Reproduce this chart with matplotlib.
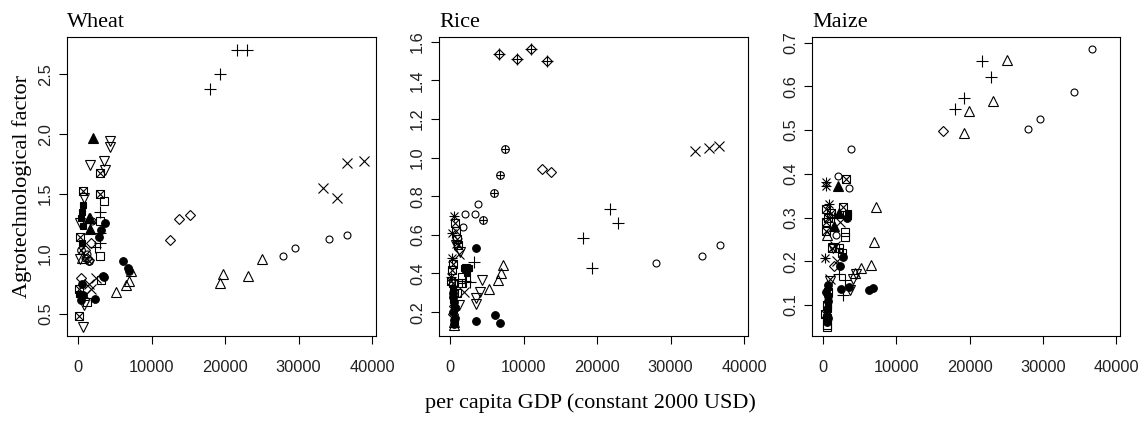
import matplotlib
matplotlib.use("Agg")
import matplotlib.pyplot as plt

# ---- data (x = per capita GDP, y = factor) ----
crops = ["Wheat", "Rice", "Maize"]
x_ticks = [0, 10000, 20000, 30000, 40000]
wheat_yticks = [0.5, 1.0, 1.5, 2.0, 2.5]
rice_yticks = [0.2, 0.4, 0.6, 0.8, 1.0, 1.2, 1.4, 1.6]
maize_yticks = [0.1, 0.2, 0.3, 0.4, 0.5, 0.6, 0.7]

wheat_plus = [(21600, 2.70), (22950, 2.70), (19250, 2.50), (17950, 2.38), (2990, 1.35),
              (2900, 1.175), (2900, 1.09), (2220, 1.06)]
wheat_cross = [(36550, 1.76), (38950, 1.78), (33300, 1.55), (35200, 1.47), (2450, 0.80),
               (1770, 0.71), (950, 0.66), (1500, 0.75)]
wheat_tri_down = [(4350, 1.94), (4350, 1.89), (3540, 1.78), (1630, 1.74), (3670, 1.70),
                  (725, 1.47), (725, 0.575), (635, 0.39), (270, 0.96), (270, 1.26)]
wheat_tri_up = [(5170, 0.686), (6530, 0.74), (6940, 0.775), (7170, 0.86), (19250, 0.756),
                (19770, 0.83), (23170, 0.817), (24950, 0.96), (1630, 1.30), (500, 0.97)]
wheat_tri_fill = [(1950, 1.97), (1500, 1.30), (1540, 1.21)]
wheat_box_x = [(2990, 1.68), (635, 1.53), (2990, 1.50), (136, 0.48), (270, 1.14), (136, 0.71)]
wheat_square = [(3450, 1.44), (2990, 1.275), (2990, 0.985), (3080, 0.78), (1180, 0.60)]
wheat_diamond = [(12430, 1.12), (13650, 1.29), (15150, 1.33), (365, 0.80), (1730, 1.09),
                 (950, 1.03), (1400, 0.95), (1200, 0.97)]
wheat_circle = [(27850, 0.986), (29570, 1.05), (34200, 1.125), (36550, 1.16), (1900, 1.28),
                (1200, 1.00), (900, 0.97)]
wheat_dot = [(6080, 0.94), (6760, 0.88), (6900, 0.86), (3450, 0.81), (3670, 1.26),
             (2760, 1.14), (2310, 0.625), (365, 0.62), (500, 0.75), (3130, 1.20),
             (3400, 0.82), (600, 0.66)]
wheat_square_fill = [(635, 1.41), (500, 1.35), (635, 1.23), (500, 1.09), (45, 0.67), (300, 1.30)]
wheat_circle_x = [(400, 1.03), (1400, 0.94)]

rice_diamond_plus = [(6600, 1.537), (9100, 1.509), (10920, 1.563), (13200, 1.502)]
rice_circle_plus = [(7510, 1.045), (6730, 0.91), (5910, 0.818), (4480, 0.675)]
rice_diamond = [(12510, 0.941), (13650, 0.924), (400, 0.19), (500, 0.23)]
rice_cross = [(33300, 1.036), (35260, 1.048), (36620, 1.062), (1820, 0.305), (1200, 0.50), (900, 0.56)]
rice_circle = [(3730, 0.76), (1950, 0.706), (3410, 0.71), (1770, 0.64), (27980, 0.452),
               (34350, 0.492), (36720, 0.547)]
rice_plus = [(21700, 0.734), (22890, 0.66), (18020, 0.582), (19250, 0.426), (3180, 0.46),
             (2730, 0.354), (2000, 0.36)]
rice_dot = [(3500, 0.533), (3500, 0.155), (6140, 0.184), (6730, 0.141), (500, 0.25),
            (400, 0.20), (600, 0.17), (300, 0.30), (500, 0.14), (500, 0.16), (600, 0.22),
            (400, 0.28)]
rice_tri_up = [(7190, 0.443), (6920, 0.404), (6510, 0.366), (5230, 0.319), (450, 0.133), (450, 0.15)]
rice_tri_down = [(4330, 0.366), (4100, 0.305), (3550, 0.271), (3550, 0.241), (1365, 0.51),
                 (1130, 0.236), (700, 0.55)]
rice_asterisk = [(450, 0.70), (230, 0.61), (230, 0.48), (150, 0.38)]
rice_box_x = [(600, 0.66), (700, 0.62), (900, 0.58), (200, 0.42), (100, 0.36), (300, 0.45),
              (1000, 0.55), (500, 0.30), (300, 0.35)]
rice_square_fill = [(1820, 0.426), (2500, 0.426), (2300, 0.40), (400, 0.26), (500, 0.22),
                    (600, 0.15), (400, 0.32)]
rice_square_plus = [(1590, 0.349), (2100, 0.43)]
rice_square = [(900, 0.30), (1600, 0.38)]

maize_circle = [(36720, 0.686), (34310, 0.588), (29670, 0.526), (27940, 0.502), (3730, 0.457),
                (2000, 0.394), (3460, 0.367), (1680, 0.259)]
maize_plus = [(21700, 0.659), (22930, 0.621), (19200, 0.574), (18020, 0.548), (2690, 0.123),
              (2910, 0.157), (1500, 0.30), (2200, 0.17)]
maize_tri_up = [(25080, 0.661), (23250, 0.567), (19890, 0.543), (19290, 0.494), (7230, 0.324),
                (6920, 0.243), (6460, 0.192), (5190, 0.184), (4280, 0.173), (500, 0.26)]
maize_diamond = [(16420, 0.497), (1500, 0.19)]
maize_box_x = [(3050, 0.388), (2700, 0.325), (300, 0.32), (300, 0.29), (600, 0.30), (400, 0.27),
               (1000, 0.31), (1200, 0.23), (200, 0.08), (500, 0.10), (600, 0.13)]
maize_tri_fill = [(2000, 0.372), (1500, 0.28), (2200, 0.31)]
maize_asterisk = [(410, 0.382), (410, 0.371), (180, 0.207), (800, 0.33)]
maize_dot = [(6190, 0.134), (6780, 0.138), (2370, 0.137), (3460, 0.14), (3300, 0.30),
             (2700, 0.21), (2300, 0.19), (600, 0.12), (500, 0.09), (700, 0.07), (500, 0.06),
             (600, 0.11), (400, 0.13), (600, 0.145)]
maize_square = [(3000, 0.268), (3000, 0.256), (3200, 0.305), (500, 0.055), (500, 0.07), (500, 0.05)]
maize_tri_down = [(3600, 0.134), (4000, 0.16), (4500, 0.17), (1300, 0.23), (900, 0.155)]
maize_cross = [(2300, 0.29), (1600, 0.235), (1800, 0.20), (900, 0.16)]
maize_square_fill = [(600, 0.10), (500, 0.08), (700, 0.12), (3400, 0.31), (500, 0.065),
                     (600, 0.09), (700, 0.14)]
maize_square_plus = [(2100, 0.23), (2500, 0.22)]

# marker look for each R-style pch symbol: list of (marker, size, filled)
PCH = {
    "circle": [("o", 5, False)],
    "tri_up": [("^", 7.2, False)],
    "tri_down": [("v", 7.2, False)],
    "tri_fill": [("^", 6.5, True)],
    "plus": [("+", 8, False)],
    "cross": [("x", 6.5, False)],
    "diamond": [("D", 5.6, False)],
    "square": [("s", 5.2, False)],
    "square_fill": [("s", 5, True)],
    "dot": [("o", 5.5, True)],
    "box_x": [("s", 5.2, False), ("x", 5.2, False)],
    "square_plus": [("s", 5.2, False), ("+", 5.2, False)],
    "circle_plus": [("o", 5.5, False), ("+", 5.5, False)],
    "circle_x": [("o", 5.5, False), ("x", 3.9, False)],
    "diamond_plus": [("D", 5.6, False), ("+", 8, False)],
    "asterisk": [("+", 7, False), ("x", 5.5, False)],
}

panels = [
    {"title": "Wheat", "yticks": wheat_yticks, "ylim": (0.317, 2.81),
     "series": {"plus": wheat_plus, "cross": wheat_cross, "tri_down": wheat_tri_down,
                "tri_up": wheat_tri_up, "tri_fill": wheat_tri_fill, "box_x": wheat_box_x,
                "square": wheat_square, "diamond": wheat_diamond, "circle": wheat_circle,
                "dot": wheat_dot, "square_fill": wheat_square_fill, "circle_x": wheat_circle_x}},
    {"title": "Rice", "yticks": rice_yticks, "ylim": (0.076, 1.625),
     "series": {"diamond_plus": rice_diamond_plus, "circle_plus": rice_circle_plus,
                "diamond": rice_diamond, "cross": rice_cross, "circle": rice_circle,
                "plus": rice_plus, "dot": rice_dot, "tri_up": rice_tri_up,
                "tri_down": rice_tri_down, "asterisk": rice_asterisk, "box_x": rice_box_x,
                "square_fill": rice_square_fill, "square_plus": rice_square_plus,
                "square": rice_square}},
    {"title": "Maize", "yticks": maize_yticks, "ylim": (0.029, 0.713),
     "series": {"circle": maize_circle, "plus": maize_plus, "tri_up": maize_tri_up,
                "diamond": maize_diamond, "box_x": maize_box_x, "tri_fill": maize_tri_fill,
                "asterisk": maize_asterisk, "dot": maize_dot, "square": maize_square,
                "tri_down": maize_tri_down, "cross": maize_cross,
                "square_fill": maize_square_fill, "square_plus": maize_square_plus}},
]

W, H = 1145, 422
boxes = [(67, 376), (439, 748), (812, 1120)]
top, bottom = 37, 336

serif = "Liberation Serif"
sans = "Liberation Sans"

fig = plt.figure(figsize=(W / 100, H / 100), dpi=100)

for (left, right), panel in zip(boxes, panels):
    ax = fig.add_axes([left / W, (H - bottom) / H, (right - left) / W, (bottom - top) / H])
    for kind, pts in panel["series"].items():
        xs = [p[0] for p in pts]
        ys = [p[1] for p in pts]
        for marker, size, filled in PCH[kind]:
            ax.plot(xs, ys, linestyle="none", marker=marker, markersize=size,
                    markerfacecolor="black" if filled else "none",
                    markeredgecolor="black", markeredgewidth=0.8)

    ax.set_xlim(-1550, 40550)
    ax.set_ylim(*panel["ylim"])
    ax.set_xticks(x_ticks)
    ax.set_xticklabels([str(t) for t in x_ticks], fontfamily=sans, fontsize=11.8, color="#222222")
    ax.set_yticks(panel["yticks"])
    ax.set_yticklabels([f"{t:.1f}" for t in panel["yticks"]], fontfamily=sans,
                       fontsize=11.8, color="#222222", rotation=90, va="center")
    ax.tick_params(axis="x", length=5.5, width=0.8, pad=12)
    ax.tick_params(axis="y", length=5.5, width=0.8, pad=4.5)
    for s in ax.spines.values():
        s.set_linewidth(0.8)
    ax.set_title(panel["title"], loc="left", fontfamily=serif, fontsize=16, pad=7)

fig.text(590 / W, 1 - 403 / H, "per capita GDP (constant 2000 USD)", fontfamily=serif,
         fontsize=16, ha="center", va="center")
fig.text(22 / W, 1 - 187 / H, "Agrotechnological factor", fontfamily=serif,
         fontsize=16, ha="center", va="center", rotation=90)

fig.savefig("out.png", dpi=100)
